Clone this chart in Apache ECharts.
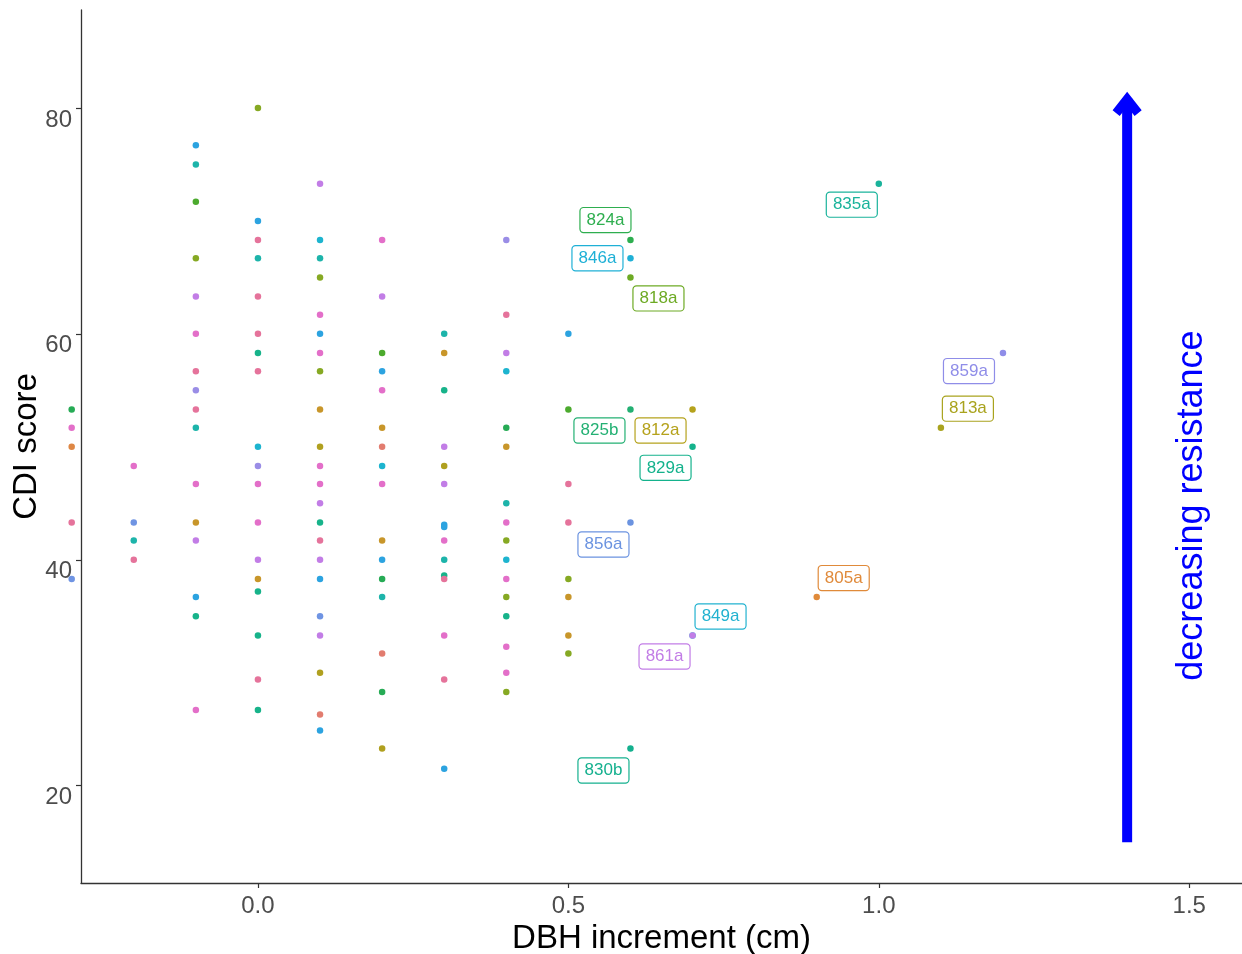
<!DOCTYPE html>
<html>
<head>
<meta charset="utf-8">
<script src="https://cdn.jsdelivr.net/npm/echarts@6/dist/echarts.min.js"></script>
<style>
html,body{margin:0;padding:0;background:#fff;}
#chart{width:1242px;height:954px;}
</style>
</head>
<body>
<div id="chart"></div>
<script>
// ---- palette (ggplot-like hues) ----
const PK = '#E36FC9', PR = '#E5739B', PU = '#C27DE6', LV = '#9A8DE6', PB = '#6F94E3',
      BL = '#2CA3E0', CY = '#1DB4CF', TL = '#1DB4AA', TG = '#17B38A', GR = '#26AB55',
      LG = '#4CAA2E', OL = '#86A923', YO = '#B0A01F', GD = '#C8962A', OR = '#DE8745', SA = '#E27C6F';

// ---- unlabeled points, grouped by DBH increment ----
const dbhColumns = [-0.3, -0.2, -0.1, 0.0, 0.1, 0.2, 0.3, 0.4, 0.5];
const cdiM03 = [53.3, 51.7, 50.0, 43.3, 38.3];
const clrM03 = [GR, PK, OR, PR, PB];
const cdiM02 = [48.3, 43.3, 41.7, 40.0];
const clrM02 = [PK, PB, TL, PR];
const cdiM01 = [76.7, 75.0, 71.7, 66.7, 63.3, 60.0, 56.7, 55.0, 53.3, 51.7, 46.7, 43.3, 41.7, 36.7, 35.0, 26.7];
const clrM01 = [BL, TL, LG, OL, PU, PK, PR, LV, PR, TL, PK, GD, PU, BL, TG, PK];
const cdiP00 = [80.0, 70.0, 68.3, 66.7, 63.3, 60.0, 58.3, 56.7, 50.0, 48.3, 46.7, 43.3, 40.0, 38.3, 37.2, 33.3, 29.4, 26.7];
const clrP00 = [OL, BL, PR, TL, PR, PR, TG, PR, CY, LV, PK, PK, PU, GD, TG, TG, PR, TG];
const cdiP01 = [73.3, 68.3, 66.7, 65.0, 61.7, 60.0, 58.3, 56.7, 53.3, 50.0, 48.3, 46.7, 45.0, 43.3, 41.7, 40.0, 38.3, 35.0, 33.3, 30.0, 26.3, 24.9];
const clrP01 = [PU, CY, TL, OL, PK, BL, PK, OL, GD, YO, PK, PK, PU, TG, PR, PU, BL, PB, PU, YO, SA, BL];
const cdiP02 = [68.3, 63.3, 58.3, 56.7, 55.0, 51.7, 50.0, 48.3, 46.7, 41.7, 40.0, 38.3, 36.7, 31.7, 28.3, 23.3];
const clrP02 = [PK, PU, LG, BL, PK, GD, SA, CY, PK, GD, BL, GR, TL, SA, GR, YO];
const cdiP03 = [60.0, 58.3, 55.0, 50.0, 48.3, 46.7, 43.1, 42.9, 41.7, 40.0, 38.6, 38.3, 33.3, 29.4, 21.5];
const clrP03 = [TL, GD, TG, PU, YO, PU, BL, BL, PK, TL, TG, PR, PK, PR, BL];
const cdiP04 = [68.3, 61.7, 58.3, 56.7, 51.7, 50.0, 45.0, 43.3, 41.7, 40.0, 38.3, 36.7, 35.0, 32.3, 30.0, 28.3];
const clrP04 = [LV, PR, PU, CY, GR, GD, TL, PK, OL, CY, PK, OL, TG, PK, PK, OL];
const cdiP05 = [60.0, 53.3, 46.7, 43.3, 38.3, 36.7, 33.3, 31.7];
const clrP05 = [BL, LG, PR, PR, OL, GD, GD, OL];

const cdiColumns = [cdiM03, cdiM02, cdiM01, cdiP00, cdiP01, cdiP02, cdiP03, cdiP04, cdiP05];
const clrColumns = [clrM03, clrM02, clrM01, clrP00, clrP01, clrP02, clrP03, clrP04, clrP05];

// ---- labeled trees ----
const labelNames  = ['824a', '846a', '818a', '825b', '812a', '829a', '856a', '835a', '859a', '813a', '805a', '849a', '861a', '830b'];
const labelDBH    = [0.6, 0.6, 0.6, 0.6, 0.7, 0.7, 0.6, 1.0, 1.2, 1.1, 0.9, 0.7, 0.7, 0.6];
const labelCDI    = [68.3, 66.7, 65.0, 53.3, 53.3, 50.0, 43.3, 73.3, 58.3, 51.7, 36.7, 33.3, 33.3, 23.3];
const labelColors = ['#2EAE4F', '#1FB0D6', '#6DAA24', '#23B073', '#B5A21C', '#14B28C', '#6B93E0', '#1AB39B', '#8F8DE8', '#A9A31E', '#E08A3A', '#22B2D0', '#C27DE6', '#14B08E'];
// label placement offsets (pixels, styling only)
const labelOffsets = [[-25, -20], [-33, 0], [28, 21], [-31, 21], [-32, 21], [-27, 21], [-27, 22], [-27, 21], [-34, 18], [27, -19], [27, -19], [28, -19], [-28, 21], [-27, 22]];

// ---- axes ----
const xTicks = [0.0, 0.5, 1.0, 1.5];
const yTicks = [20, 40, 60, 80];
const xMin = -0.285, xMax = 1.585, yMin = 11.39, yMax = 88.67;

// ---- annotation ----
const arrowX = 1.4, arrowFrom = 15.0, arrowTo = 81.4;
const noteText = 'decreasing resistance', noteX = 1.505, noteY = 44.8;

const FONT = 'Liberation Sans, Arial, sans-serif';

const plainData = [];
dbhColumns.forEach((x, i) => {
  cdiColumns[i].forEach((y, j) => {
    plainData.push({ value: [x, y], itemStyle: { color: clrColumns[i][j] } });
  });
});

const labeledData = labelNames.map((n, i) => ({
  name: n,
  value: [labelDBH[i], labelCDI[i]],
  itemStyle: { color: labelColors[i] },
  label: {
    offset: labelOffsets[i],
    color: labelColors[i],
    borderColor: labelColors[i]
  }
}));

const chart = echarts.init(document.getElementById('chart'), null, { renderer: 'canvas' });
chart.setOption({
  animation: false,
  backgroundColor: '#ffffff',
  grid: { left: 81, right: 0, top: 10, bottom: 71, containLabel: false, outerBoundsMode: 'none' },
  xAxis: {
    type: 'value', min: xMin, max: xMax,
    name: 'DBH increment (cm)', nameLocation: 'middle', nameGap: 39, nameMoveOverlap: false,
    nameTextStyle: { color: '#000', fontSize: 33, fontFamily: FONT },
    axisLine: { show: true, onZero: false, lineStyle: { color: '#333', width: 1.3 } },
    axisTick: { show: true, length: 5, customValues: xTicks, lineStyle: { color: '#333', width: 1.2 } },
    axisLabel: { customValues: xTicks, margin: 11, color: '#4D4D4D', fontSize: 24, fontFamily: FONT,
      formatter: v => Number(v).toFixed(1) },
    splitLine: { show: false }
  },
  yAxis: {
    type: 'value', min: yMin, max: yMax,
    name: 'CDI score', nameLocation: 'middle', nameGap: 38, nameRotate: 90, nameMoveOverlap: false,
    nameTextStyle: { color: '#000', fontSize: 33, fontFamily: FONT },
    axisLine: { show: true, onZero: false, lineStyle: { color: '#333', width: 1.3 } },
    axisTick: { show: true, length: 5, customValues: yTicks, lineStyle: { color: '#333', width: 1.2 } },
    axisLabel: { customValues: yTicks, margin: 9, color: '#4D4D4D', fontSize: 24, fontFamily: FONT,
      verticalAlign: 'top' },
    splitLine: { show: false }
  },
  series: [
    {
      type: 'scatter', clip: false, symbol: 'circle', symbolSize: 6.5,
      itemStyle: { opacity: 1 },
      data: plainData, z: 2
    },
    {
      type: 'scatter', clip: false, symbol: 'circle', symbolSize: 6.5, z: 3,
      itemStyle: { opacity: 1 },
      data: labeledData,
      label: {
        show: true, position: 'inside',
        formatter: p => p.name,
        fontSize: 17, fontFamily: FONT,
        backgroundColor: '#ffffff', borderWidth: 1.2, borderRadius: 3,
        padding: [4, 6, 3, 6]
      },
      emphasis: { disabled: true }
    },
    {
      type: 'custom', clip: false, z: 4, silent: true,
      data: [[arrowX, arrowFrom, arrowTo]],
      renderItem: (params, api) => {
        const b = api.coord([api.value(0), api.value(1)]);
        const t = api.coord([api.value(0), api.value(2)]);
        const x = b[0];
        const tipY = t[1];
        return {
          type: 'group',
          children: [
            { type: 'line', shape: { x1: x, y1: b[1], x2: x, y2: tipY + 6 },
              style: { stroke: '#0000FF', lineWidth: 10, lineCap: 'butt' } },
            { type: 'polyline', shape: { points: [[x - 11, tipY + 21], [x, tipY + 7], [x + 11, tipY + 21]] },
              style: { stroke: '#0000FF', fill: null, lineWidth: 9, lineJoin: 'miter', lineCap: 'butt' } }
          ]
        };
      }
    },
    {
      type: 'custom', clip: false, z: 4, silent: true,
      data: [[noteX, noteY]],
      renderItem: (params, api) => {
        const p = api.coord([api.value(0), api.value(1)]);
        return {
          type: 'text', x: p[0], y: p[1], rotation: Math.PI / 2,
          style: { text: noteText, fill: '#0000FF', font: '36px ' + FONT, align: 'center', verticalAlign: 'middle' }
        };
      }
    }
  ]
});
</script>
</body>
</html>
